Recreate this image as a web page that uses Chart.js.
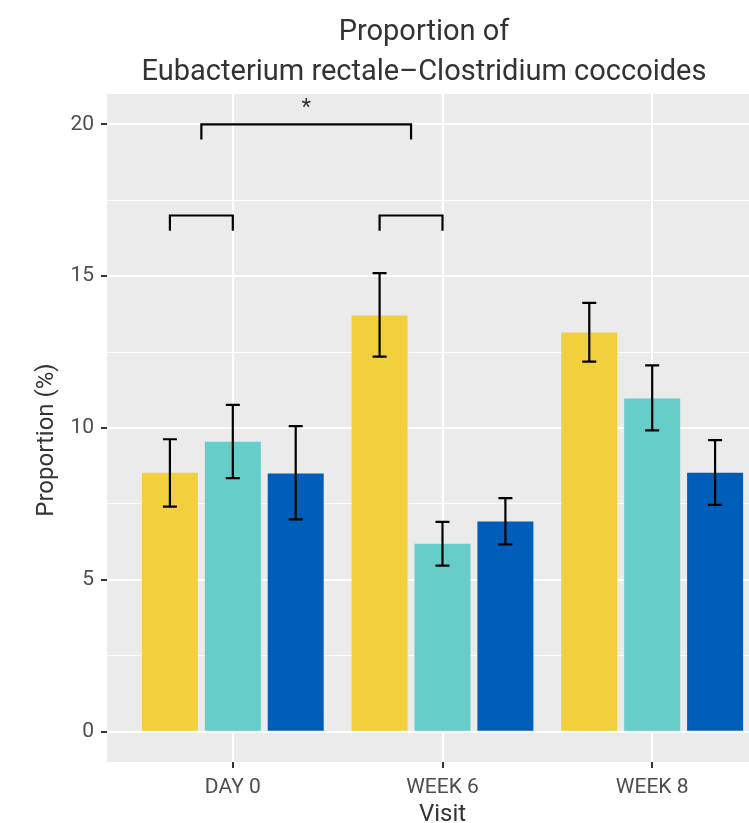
<!DOCTYPE html>
<html>
<head>
<meta charset="utf-8">
<script src="https://cdn.jsdelivr.net/npm/chart.js@4.4.1/dist/chart.umd.min.js"></script>
<style>
  html, body { margin: 0; padding: 0; background: #fff; overflow: hidden; }
  #wrap { width: 854px; height: 823px; }
</style>
</head>
<body>
<div id="wrap"><canvas id="visitChart" width="854" height="823"></canvas></div>
<script>
// categories on the x axis
var visits = ['DAY 0', 'WEEK 6', 'WEEK 8'];

// three groups (no legend in the figure)
var groupNames = ['Group 1', 'Group 2', 'Group 3'];
var groupColors = ['#F2D03D', '#66CDC8', '#005EB8'];

// mean proportion (%) per visit
var group1Mean = [8.53, 13.71, 13.15];
var group2Mean = [9.55, 6.19, 10.97];
var group3Mean = [8.50, 6.92, 8.53];

// error bar ends
var group1Low = [7.41, 12.35, 12.19];
var group1High = [9.63, 15.10, 14.12];
var group2Low = [8.35, 5.47, 9.92];
var group2High = [10.76, 6.91, 12.06];
var group3Low = [6.99, 6.17, 7.47];
var group3High = [10.06, 7.69, 9.60];

// y axis
var yTicks = [0, 5, 10, 15, 20];
var yMinorTicks = [2.5, 7.5, 12.5, 17.5];
var yMin = -1;
var yMax = 21;

// significance brackets (x in visit units, 1 = DAY 0)
var bracketStart = [0.7, 0.85, 1.7];
var bracketEnd = [1.0, 1.85, 2.0];
var bracketTop = [17, 20, 17];
var bracketDrop = [0.5, 0.5, 0.5];
var bracketLabel = ['', '*', ''];

var means = [group1Mean, group2Mean, group3Mean];
var lows = [group1Low, group2Low, group3Low];
var highs = [group1High, group2High, group3High];

var FONT = 'Roboto';

var datasets = means.map(function (m, g) {
  return {
    label: groupNames[g],
    data: m.map(function (v, i) { return { x: i + 1, y: v }; }),
    backgroundColor: groupColors[g],
    borderWidth: 0,
    categoryPercentage: 0.9,
    barPercentage: 0.89
  };
});

// grey ggplot panel
var panelBg = {
  id: 'panelBg',
  beforeDraw: function (chart) {
    var a = chart.chartArea, ctx = chart.ctx;
    ctx.save();
    ctx.fillStyle = '#EBEBEB';
    ctx.fillRect(a.left, a.top, a.right - a.left, a.bottom - a.top);
    ctx.restore();
  }
};

// error bars and significance brackets
var extras = {
  id: 'extras',
  afterDatasetsDraw: function (chart) {
    var ctx = chart.ctx, ys = chart.scales.y, xs = chart.scales.x;
    ctx.save();
    ctx.strokeStyle = '#000';
    ctx.lineWidth = 2.2;
    ctx.lineCap = 'butt';
    means.forEach(function (m, g) {
      var meta = chart.getDatasetMeta(g);
      meta.data.forEach(function (bar, i) {
        var x = bar.x;
        var yl = ys.getPixelForValue(lows[g][i]);
        var yh = ys.getPixelForValue(highs[g][i]);
        ctx.beginPath();
        ctx.moveTo(x, yl); ctx.lineTo(x, yh);
        ctx.moveTo(x - 7, yl); ctx.lineTo(x + 7, yl);
        ctx.moveTo(x - 7, yh); ctx.lineTo(x + 7, yh);
        ctx.stroke();
      });
    });
    ctx.lineJoin = 'miter';
    bracketStart.forEach(function (s, k) {
      var x1 = xs.getPixelForValue(s), x2 = xs.getPixelForValue(bracketEnd[k]);
      var yt = ys.getPixelForValue(bracketTop[k]);
      var yb = ys.getPixelForValue(bracketTop[k] - bracketDrop[k]);
      ctx.beginPath();
      ctx.moveTo(x1, yb); ctx.lineTo(x1, yt); ctx.lineTo(x2, yt); ctx.lineTo(x2, yb);
      ctx.stroke();
      if (bracketLabel[k]) {
        ctx.fillStyle = '#333';
        ctx.font = '22px ' + FONT;
        ctx.textAlign = 'center';
        ctx.textBaseline = 'alphabetic';
        ctx.fillText(bracketLabel[k], (x1 + x2) / 2, ys.getPixelForValue(bracketTop[k] + 0.4) + 2);
      }
    });
    ctx.restore();
  },
  afterDraw: function (chart) {
    // y axis title, centred like the original
    var ctx = chart.ctx;
    ctx.save();
    ctx.translate(47, 440);
    ctx.rotate(-Math.PI / 2);
    ctx.fillStyle = '#333';
    ctx.font = '24px ' + FONT;
    ctx.textAlign = 'center';
    ctx.textBaseline = 'middle';
    ctx.fillText('Proportion (%)', 0, 0);
    ctx.restore();
  }
};

new Chart(document.getElementById('visitChart'), {
  type: 'bar',
  data: { datasets: datasets },
  options: {
    responsive: false,
    animation: false,
    devicePixelRatio: 1,
    layout: { padding: { left: 70, right: 76, top: 0, bottom: 0 } },
    plugins: {
      legend: { display: false },
      tooltip: { enabled: false },
      title: {
        display: true,
        text: ['Proportion of', 'Eubacterium rectale\u2013Clostridium coccoides'],
        color: '#333',
        font: { family: FONT, size: 29, weight: 'normal', lineHeight: 1.38 },
        padding: { top: 13, bottom: 1 }
      }
    },
    scales: {
      x: {
        type: 'linear',
        min: 0.4,
        max: 3.6,
        offset: false,
        afterBuildTicks: function (s) {
          s.ticks = visits.map(function (v, i) { return { value: i + 1 }; });
        },
        afterFit: function (s) { s.height = 61; },
        ticks: {
          autoSkip: false,
          maxRotation: 0,
          padding: 7,
          color: '#4D4D4D',
          font: { family: FONT, size: 21 },
          callback: function (v) { return visits[v - 1]; }
        },
        grid: {
          offset: false,
          color: '#FFFFFF',
          lineWidth: 2,
          tickColor: '#333',
          tickLength: 6,
          tickWidth: 2
        },
        border: { display: false },
        title: {
          display: true,
          text: 'Visit',
          color: '#333',
          font: { family: FONT, size: 24, lineHeight: 0.7 },
          padding: 0
        }
      },
      y: {
        min: yMin,
        max: yMax,
        afterBuildTicks: function (s) {
          s.ticks = yTicks.concat(yMinorTicks).sort(function (a, b) { return a - b; })
            .map(function (v) { return { value: v }; });
        },
        afterFit: function (s) { s.width = 37; },
        ticks: {
          padding: 7,
          color: '#4D4D4D',
          font: { family: FONT, size: 21 },
          callback: function (v) { return yTicks.indexOf(v) >= 0 ? String(v) : ''; }
        },
        grid: {
          color: '#FFFFFF',
          lineWidth: function (c) { return yTicks.indexOf(c.tick.value) >= 0 ? 2 : 1; },
          tickColor: function (c) { return yTicks.indexOf(c.tick.value) >= 0 ? '#333' : 'rgba(0,0,0,0)'; },
          tickLength: 6,
          tickWidth: 2
        },
        border: { display: false }
      }
    }
  },
  plugins: [panelBg, extras]
});
</script>
</body>
</html>
